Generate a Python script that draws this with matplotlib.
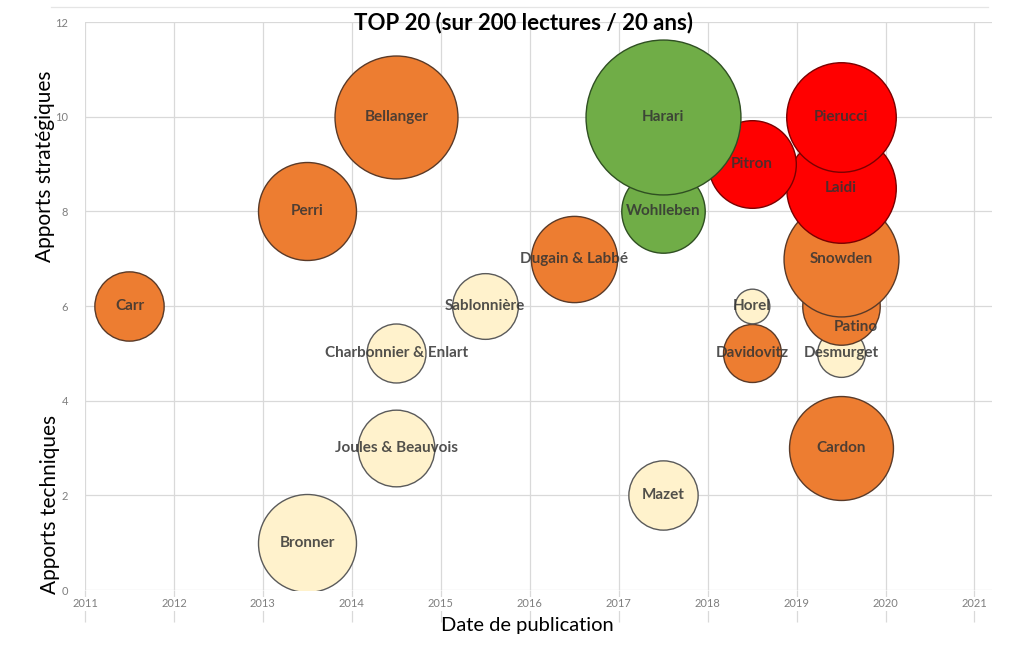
import matplotlib
matplotlib.use("Agg")
import matplotlib.pyplot as plt
from matplotlib.lines import Line2D
import numpy as np

# --- donnees ---
auteurs = ["Carr", "Perri", "Bellanger", "Bronner", "Charbonnier & Enlart", "Joules & Beauvois",
           "Sablonnière", "Dugain & Labbé", "Harari", "Wohlleben", "Mazet",
           "Pitron", "Horel", "Davidovitz", "Pierucci", "Laidi", "Snowden", "Patino",
           "Desmurget", "Cardon"]
annees = [2011.5, 2013.5, 2014.5, 2013.5, 2014.5, 2014.5,
          2015.5, 2016.5, 2017.5, 2017.5, 2017.5,
          2018.5, 2018.5, 2018.5, 2019.5, 2019.5, 2019.5, 2019.5,
          2019.5, 2019.5]
apports = [6, 8, 10, 1, 5, 3,
           6, 7, 10, 8, 2,
           9, 6, 5, 10, 8.5, 7, 6,
           5, 3]
poids = [4, 8, 12.6, 8, 2.9, 4.9,
         3.6, 6.2, 20, 5.8, 4,
         6.4, 1, 2.8, 10, 10, 11, 5,
         1.9, 9]
categories = ["o", "o", "o", "c", "c", "c",
              "c", "o", "g", "g", "c",
              "r", "c", "o", "r", "r", "o", "o",
              "c", "o"]

FILL = {"o": "#ED7D31", "g": "#70AD47", "r": "#FF0000", "c": "#FFF2CC"}
EDGE = {"o": "#5A3A28", "g": "#2F4F22", "r": "#7A0000", "c": "#5A5A5A"}
SCALE = 622.0   # pt^2 par unite de poids

# decalage manuel de l'etiquette Patino
decalages = {"Patino": (0.17, -0.44)}

plt.rcParams['font.family'] = ['Lato', 'DejaVu Sans']

fig = plt.figure(figsize=(10.24, 6.48), dpi=100)
ax = fig.add_axes([0.083, 0.0895, 0.886, 0.8765])

ordre = np.argsort(apports, kind="stable")
for z, i in enumerate(ordre):
    ax.scatter(annees[i], apports[i], s=poids[i] * SCALE, c=FILL[categories[i]],
               edgecolors=EDGE[categories[i]], linewidths=1.0, zorder=3 + z)

for i, nom in enumerate(auteurs):
    dx, dy = decalages.get(nom, (0, 0))
    ax.text(annees[i] + dx, apports[i] + dy, nom, ha="center", va="center",
            fontsize=11, fontweight="bold", color="#333333", alpha=0.85, zorder=50)

ax.set_xlim(2011, 2021.2)
ax.set_ylim(0, 12)
ax.set_xticks(range(2011, 2022))
ax.set_yticks(range(0, 13, 2))
ax.grid(True, color="#D9D9D9", linewidth=0.9, zorder=0)
ax.set_axisbelow(True)
for s in ax.spines.values():
    s.set_visible(False)

ax.tick_params(axis="y", length=0, pad=12, labelsize=8, labelcolor="#7F7F7F")
ax.tick_params(axis="x", length=23, width=0.9, color="#D9D9D9", direction="out",
               pad=-17, labelsize=8, labelcolor="#7F7F7F")
for lab in ax.get_xticklabels():
    lab.set_bbox(dict(facecolor="white", edgecolor="none", pad=1))

fig.text(0.511, 0.966, "TOP 20 (sur 200 lectures / 20 ans)", ha="center", va="center",
         fontsize=16, fontweight="bold", color="black")
fig.text(0.044, 0.744, "Apports stratégiques", rotation=90, ha="center", va="center",
         fontsize=15, color="black")
fig.text(0.049, 0.222, "Apports techniques", rotation=90, ha="center", va="center",
         fontsize=15, color="black")
fig.text(0.515, 0.034, "Date de publication", ha="center", va="center",
         fontsize=14.5, color="black")

# trait fin en haut de l'image
fig.add_artist(Line2D([0.05, 0.965], [0.989, 0.989], color="#E5E5E5", linewidth=0.9))

fig.savefig("out.png", dpi=100)
